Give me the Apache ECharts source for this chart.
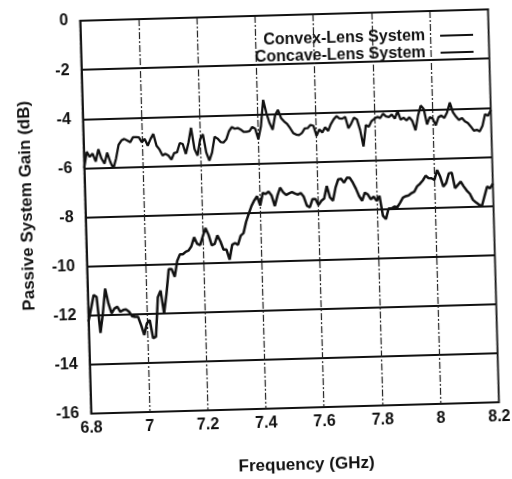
<!DOCTYPE html>
<html>
<head>
<meta charset="utf-8">
<script src="https://cdn.jsdelivr.net/npm/echarts@6/dist/echarts.min.js"></script>
<style>
html,body{margin:0;padding:0;background:#fff;}
#chart{width:512px;height:479px;transform:rotate(-1.6deg);transform-origin:289.6px 213.3px;}
</style>
</head>
<body>
<div id="chart"></div>
<script>
// Frequency samples (GHz)
var freqs = [
6.80,6.81,6.82,6.83,6.84,6.85,6.86,6.87,6.88,6.89,
6.90,6.91,6.92,6.93,6.94,6.95,6.96,6.97,6.98,6.99,
7.00,7.01,7.02,7.03,7.04,7.05,7.06,7.07,7.08,7.09,
7.10,7.11,7.12,7.13,7.14,7.15,7.16,7.17,7.18,7.19,
7.20,7.21,7.22,7.23,7.24,7.25,7.26,7.27,7.28,7.29,
7.30,7.31,7.32,7.33,7.34,7.35,7.36,7.37,7.38,7.39,
7.40,7.41,7.42,7.43,7.44,7.45,7.46,7.47,7.48,7.49,
7.50,7.51,7.52,7.53,7.54,7.55,7.56,7.57,7.58,7.59,
7.60,7.61,7.62,7.63,7.64,7.65,7.66,7.67,7.68,7.69,
7.70,7.71,7.72,7.73,7.74,7.75,7.76,7.77,7.78,7.79,
7.80,7.81,7.82,7.83,7.84,7.85,7.86,7.87,7.88,7.89,
7.90,7.91,7.92,7.93,7.94,7.95,7.96,7.97,7.98,7.99,
8.00,8.01,8.02,8.03,8.04,8.05,8.06,8.07,8.08,8.09,
8.10,8.11,8.12,8.13,8.14,8.15,8.16,8.17,8.18,8.19,
8.20
];
// Convex-Lens System gain (dB)
var convexGain = [
-6.00,-5.34,-5.55,-5.42,-5.75,-5.25,-5.63,-5.84,-5.40,-5.78,
-6.05,-5.65,-5.09,-4.92,-4.86,-4.93,-5.00,-4.80,-4.80,-4.81,
-5.01,-4.88,-5.16,-4.89,-4.69,-5.17,-5.33,-5.58,-5.51,-5.59,
-5.75,-5.49,-5.46,-5.09,-5.13,-5.54,-5.08,-4.48,-5.35,-5.62,
-4.96,-4.76,-5.50,-5.84,-5.51,-4.87,-4.95,-5.09,-5.12,-4.99,
-4.66,-4.50,-4.57,-4.54,-4.61,-4.71,-4.71,-4.69,-4.52,-4.59,
-5.03,-4.50,-3.43,-3.97,-4.38,-4.65,-4.05,-3.85,-4.19,-4.33,
-4.43,-4.61,-4.81,-4.88,-4.90,-4.82,-4.64,-4.63,-4.50,-4.54,
-4.95,-4.69,-4.82,-4.61,-4.76,-4.49,-4.30,-4.17,-4.27,-4.28,
-4.21,-4.68,-4.49,-4.25,-4.33,-4.77,-5.44,-4.57,-4.64,-4.41,
-4.32,-4.25,-4.30,-4.13,-4.24,-4.27,-4.17,-4.34,-4.04,-4.39,
-4.31,-4.43,-4.30,-4.46,-4.84,-4.24,-3.84,-3.98,-4.61,-4.32,
-4.39,-4.66,-4.33,-4.27,-4.37,-4.14,-3.75,-4.15,-4.33,-4.47,
-4.39,-4.53,-4.60,-4.75,-4.92,-4.89,-4.96,-4.73,-4.26,-4.33,
-4.10
];
// Concave-Lens System gain (dB)
var concaveGain = [
-12.25,-11.72,-11.18,-11.26,-12.73,-11.93,-10.93,-11.54,-11.94,-11.75,
-11.68,-11.89,-11.82,-11.80,-11.90,-12.08,-12.11,-12.11,-12.45,-12.86,
-12.39,-12.26,-13.00,-12.94,-11.34,-11.07,-12.01,-11.21,-10.21,-10.21,
-10.53,-9.88,-9.62,-9.62,-9.52,-9.47,-9.30,-8.94,-9.21,-9.27,
-8.91,-8.58,-8.86,-9.29,-9.24,-8.89,-9.14,-9.48,-9.48,-9.89,
-9.29,-9.22,-9.30,-8.93,-8.83,-8.37,-8.04,-7.73,-7.51,-7.34,
-7.72,-7.21,-7.26,-7.17,-7.33,-7.76,-7.34,-7.02,-7.21,-7.32,
-7.26,-7.21,-7.27,-7.32,-7.26,-7.41,-7.78,-7.85,-7.52,-7.52,
-7.77,-7.60,-7.51,-7.00,-7.47,-7.61,-7.08,-6.75,-6.73,-6.89,
-6.69,-6.70,-6.90,-7.15,-7.45,-7.65,-7.32,-7.39,-7.60,-7.49,
-7.67,-7.47,-8.28,-8.42,-7.99,-7.99,-7.92,-7.95,-7.77,-7.57,
-7.51,-7.48,-7.39,-7.33,-7.12,-7.02,-6.89,-6.70,-6.80,-6.81,
-6.88,-6.48,-6.75,-7.16,-7.02,-6.63,-6.60,-7.24,-7.11,-6.98,
-7.18,-7.35,-7.48,-7.73,-7.84,-7.93,-8.01,-7.61,-7.21,-7.28,
-7.10
];
var seriesNames = ['Convex-Lens System', 'Concave-Lens System'];
var xLabel = 'Frequency (GHz)';
var yLabel = 'Passive System Gain (dB)';

function pairs(xs, ys) {
  var out = [];
  for (var i = 0; i < ys.length; i++) out.push([xs[i], ys[i]]);
  return out;
}

var chart = echarts.init(document.getElementById('chart'), null, {renderer: 'canvas'});
var font = 'Arial, "Liberation Sans", sans-serif';
chart.setOption({
  backgroundColor: '#fff',
  animation: false,
  grid: {left: 85.6, right: 18.4, top: 15, bottom: 67.2, show: true, borderColor: '#111', borderWidth: 1.8, backgroundColor: 'transparent'},
  legend: {
    orient: 'vertical', right: 29, top: 27, align: 'right', itemGap: 1,
    itemWidth: 33, itemHeight: 2, icon: 'rect',
    textStyle: {fontFamily: font, fontSize: 16, fontWeight: 'bold', color: '#111', padding: [0, 10, 0, 0]},
    data: seriesNames
  },
  xAxis: {
    type: 'value', min: 6.8, max: 8.2, interval: 0.2,
    name: xLabel, nameLocation: 'middle', nameGap: 49,
    nameTextStyle: {fontFamily: font, fontSize: 17, fontWeight: 'bold', color: '#111', padding: [0, 0, 0, 20]},
    axisLine: {show: true, lineStyle: {color: '#111', width: 1.8}},
    axisTick: {show: false},
    axisLabel: {fontFamily: font, fontSize: 16, fontWeight: 'bold', color: '#111', margin: 7,
      formatter: function (v) { return String(Math.round(v * 10) / 10); }},
    splitLine: {show: true, lineStyle: {color: '#222', width: 1.2, type: [7, 2, 2, 2]}}
  },
  yAxis: {
    type: 'value', min: -16, max: 0, interval: 2,
    name: yLabel, nameLocation: 'middle', nameGap: 50, nameRotate: 90,
    nameTextStyle: {fontFamily: font, fontSize: 17, fontWeight: 'bold', color: '#111', padding: [0, 0, 0, 26]},
    axisLine: {show: true, lineStyle: {color: '#111', width: 1.8}},
    axisTick: {show: false},
    axisLabel: {fontFamily: font, fontSize: 16, fontWeight: 'bold', color: '#111', margin: 12},
    splitLine: {show: true, lineStyle: {color: '#111', width: 1.8, type: 'solid'}}
  },
  series: [
    {name: seriesNames[0], type: 'line', data: pairs(freqs, convexGain), showSymbol: false, symbol: 'none',
      lineStyle: {color: '#111', width: 2.3}, itemStyle: {color: '#111'}},
    {name: seriesNames[1], type: 'line', data: pairs(freqs, concaveGain), showSymbol: false, symbol: 'none',
      lineStyle: {color: '#111', width: 2.5}, itemStyle: {color: '#111'}}
  ]
});
</script>
</body>
</html>
